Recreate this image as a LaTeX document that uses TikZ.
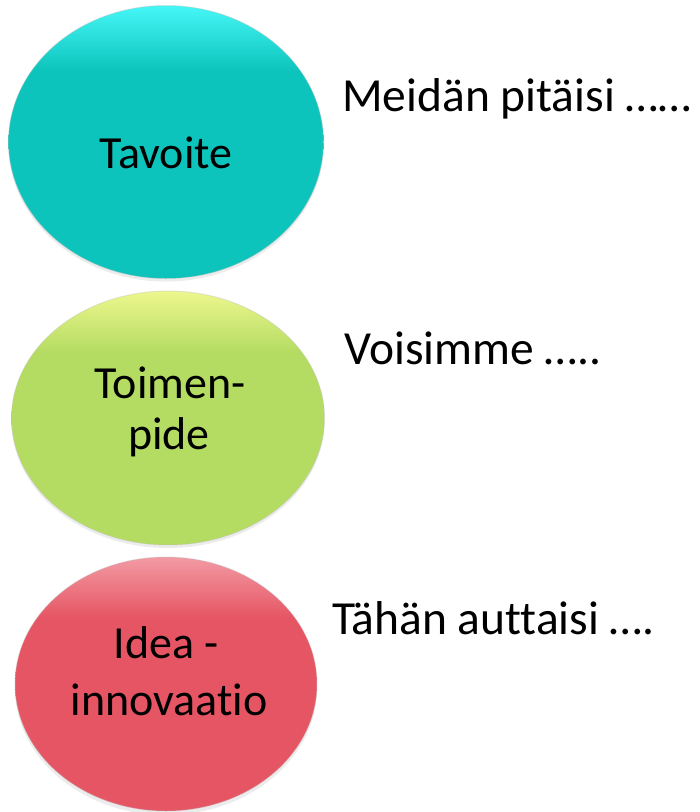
\documentclass[tikz,border=0pt]{standalone}
\usepackage{fontspec}
\setmainfont[Ligatures=NoCommon]{Carlito}
\usetikzlibrary{shapes.geometric}
\definecolor{tealbase}{HTML}{0CC4BC}
\definecolor{teallight}{HTML}{45F6F6}
\definecolor{greenbase}{HTML}{B5DC62}
\definecolor{greenlight}{HTML}{EDF78E}
\definecolor{redbase}{HTML}{E65564}
\definecolor{redlight}{HTML}{F29AA3}
\pgfdeclareverticalshading{tealshade}{100bp}{color(0bp)=(tealbase!92!black); color(27bp)=(tealbase); color(63bp)=(tealbase); color(75bp)=(teallight); color(100bp)=(teallight)}
\pgfdeclareverticalshading{greenshade}{100bp}{color(0bp)=(greenbase!92!black); color(27bp)=(greenbase); color(63bp)=(greenbase); color(75bp)=(greenlight); color(100bp)=(greenlight)}
\pgfdeclareverticalshading{redshade}{100bp}{color(0bp)=(redbase!92!black); color(27bp)=(redbase); color(63bp)=(redbase); color(75bp)=(redlight); color(100bp)=(redlight)}
\tikzset{
  ball/.style={ellipse, inner sep=0pt, outer sep=0pt, draw=black!25, draw opacity=0.35, line width=1pt},
  ballshadow/.style={ellipse, inner sep=0pt, fill=black!30, fill opacity=0.25},
  intext/.style={anchor=base, inner sep=0pt, font=\fontsize{46}{55}\selectfont, text=black},
  sidetext/.style={anchor=base west, inner sep=0pt, font=\fontsize{47.5}{57}\selectfont, text=black}
}
\begin{document}
\begin{tikzpicture}[x=1pt, y=-1pt]
\useasboundingbox (0,0) rectangle (700,812);
% shadows
\node[ballshadow, minimum width=315pt, minimum height=273pt] (s1) at (166,145) {};
\node[ballshadow, minimum width=313pt, minimum height=254pt] (s2) at (168,421) {};
\node[ballshadow, minimum width=302pt, minimum height=254pt] (s3) at (166,688) {};
% balls
\node[ball, shading=tealshade, minimum width=315pt, minimum height=273pt] (b1) at (166,142) {};
\node[ball, shading=greenshade, minimum width=313pt, minimum height=254pt] (b2) at (168,418) {};
\node[ball, shading=redshade, minimum width=302pt, minimum height=254pt] (b3) at (166,684) {};
% inner texts
\node[intext] (t1) at (166,168) {Tavoite};
\node[intext] (t2a) at (170,398) {Toimen-};
\node[intext] (t2b) at (169,449) {pide};
\node[intext] (t3a) at (166,658) {Idea -};
\node[intext] (t3b) at (169,715) {innovaatio};
% side texts
\node[sidetext] (r1) at (342,111) {Meidän pitäisi ……};
\node[sidetext] (r2) at (344,364) {Voisimme …..};
\node[sidetext] (r3) at (332,634) {Tähän auttaisi ….};
\end{tikzpicture}
\end{document}
